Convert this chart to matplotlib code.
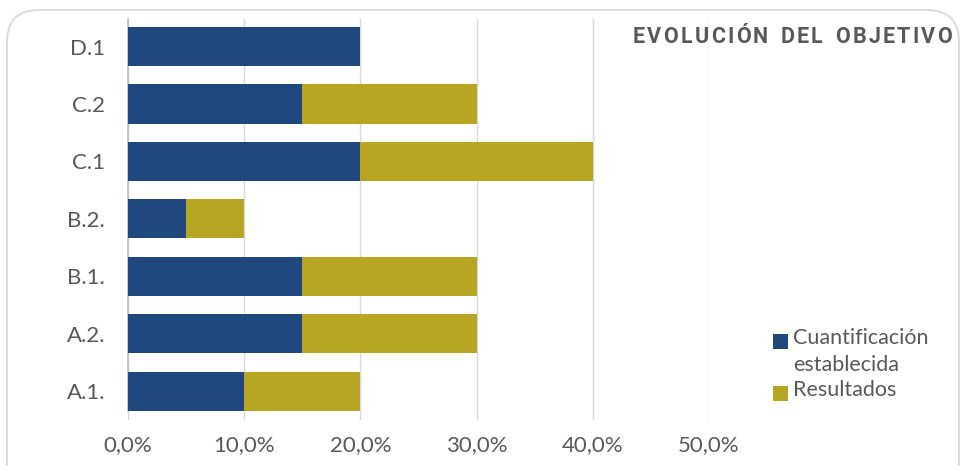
import matplotlib
matplotlib.use("Agg")
import matplotlib.pyplot as plt
from matplotlib.patches import FancyBboxPatch, Rectangle
from matplotlib.ticker import FuncFormatter

# datos del gráfico (de abajo hacia arriba)
categorias = ["A.1.", "A.2.", "B.1.", "B.2.", "C.1", "C.2", "D.1"]
cuantificacion = [0.10, 0.15, 0.15, 0.05, 0.20, 0.15, 0.20]
resultados = [0.10, 0.15, 0.15, 0.05, 0.20, 0.15, 0.00]
xticks = [0.0, 0.1, 0.2, 0.3, 0.4, 0.5]
titulo = "EVOLUCIÓN DEL OBJETIVO"
leyenda = ["Cuantificación\nestablecida", "Resultados"]

azul = "#1F497D"
oliva = "#B8A521"
gris = "#595959"

plt.rcParams['font.family'] = ['Lato', 'DejaVu Sans']

W, H = 962, 466
fig = plt.figure(figsize=(W / 100, H / 100), dpi=100)

# marco redondeado (en píxeles)
marco = FancyBboxPatch((7, -40), 952, H + 40 - 10,
                       boxstyle="round,pad=0,rounding_size=32",
                       transform=None, facecolor="white",
                       edgecolor="#D9D9D9", linewidth=1.3, zorder=-5)
fig.patches.append(marco)

ax = fig.add_axes([128 / W, 1 - 420 / H, 581 / W, 401 / H])
ax.set_facecolor("none")
ax.set_zorder(1)

y = range(len(categorias))
ax.barh(y, cuantificacion, height=0.68, color=azul, zorder=3)
ax.barh(y, resultados, left=cuantificacion, height=0.68, color=oliva, zorder=3)

ax.set_xlim(0, 0.5)
ax.set_ylim(-0.5, 6.48)
ax.set_xticks(xticks)
ax.xaxis.set_major_formatter(FuncFormatter(lambda v, p: f"{v * 100:.1f}%".replace(".", ",")))
ax.set_yticks(list(y))
ax.set_yticklabels(categorias)

ax.grid(axis="x", color="#D9D9D9", linewidth=1, zorder=0)
for s in ["top", "right", "bottom"]:
    ax.spines[s].set_visible(False)
ax.spines["left"].set_color("#BFBFBF")
ax.spines["left"].set_linewidth(1.2)
ax.spines["left"].set_bounds(-0.34, 6.48)
ax.tick_params(axis="both", length=0, labelsize=16, labelcolor=gris)
ax.tick_params(axis="x", pad=11)
ax.tick_params(axis="y", pad=16.5)

# título con espaciado entre letras, ocupando de x=633 a x=952
renderer = fig.canvas.get_renderer()
letras = []
for ch in titulo:
    t = fig.text(0, 1 - 37 / H, ch, ha="left", va="center",
                 fontsize=15.5, fontweight="bold", color=gris,
                 family=["Roboto", "DejaVu Sans"])
    w = t.get_window_extent(renderer).width if ch != " " else 8
    letras.append((t, w))
ancho = sum(w for _, w in letras)
espacio = (952 - 633 - ancho) / (len(letras) - 1)
x_px = 633
for t, w in letras:
    t.set_x(x_px / W)
    x_px += w + espacio

# leyenda manual: cuadrado alineado con la primera línea del texto
for i, (lab, col) in enumerate(zip(leyenda, [azul, oliva])):
    y_top = [334, 386][i]
    fig.patches.append(Rectangle((773 / W, 1 - (y_top + 15) / H), 15 / W, 15 / H,
                                 transform=fig.transFigure, facecolor=col, zorder=3))
    fig.text(793 / W, 1 - (y_top - 6) / H, lab, ha="left", va="top",
             fontsize=15.5, color=gris, linespacing=1.45)

fig.savefig("out.png", dpi=100)
